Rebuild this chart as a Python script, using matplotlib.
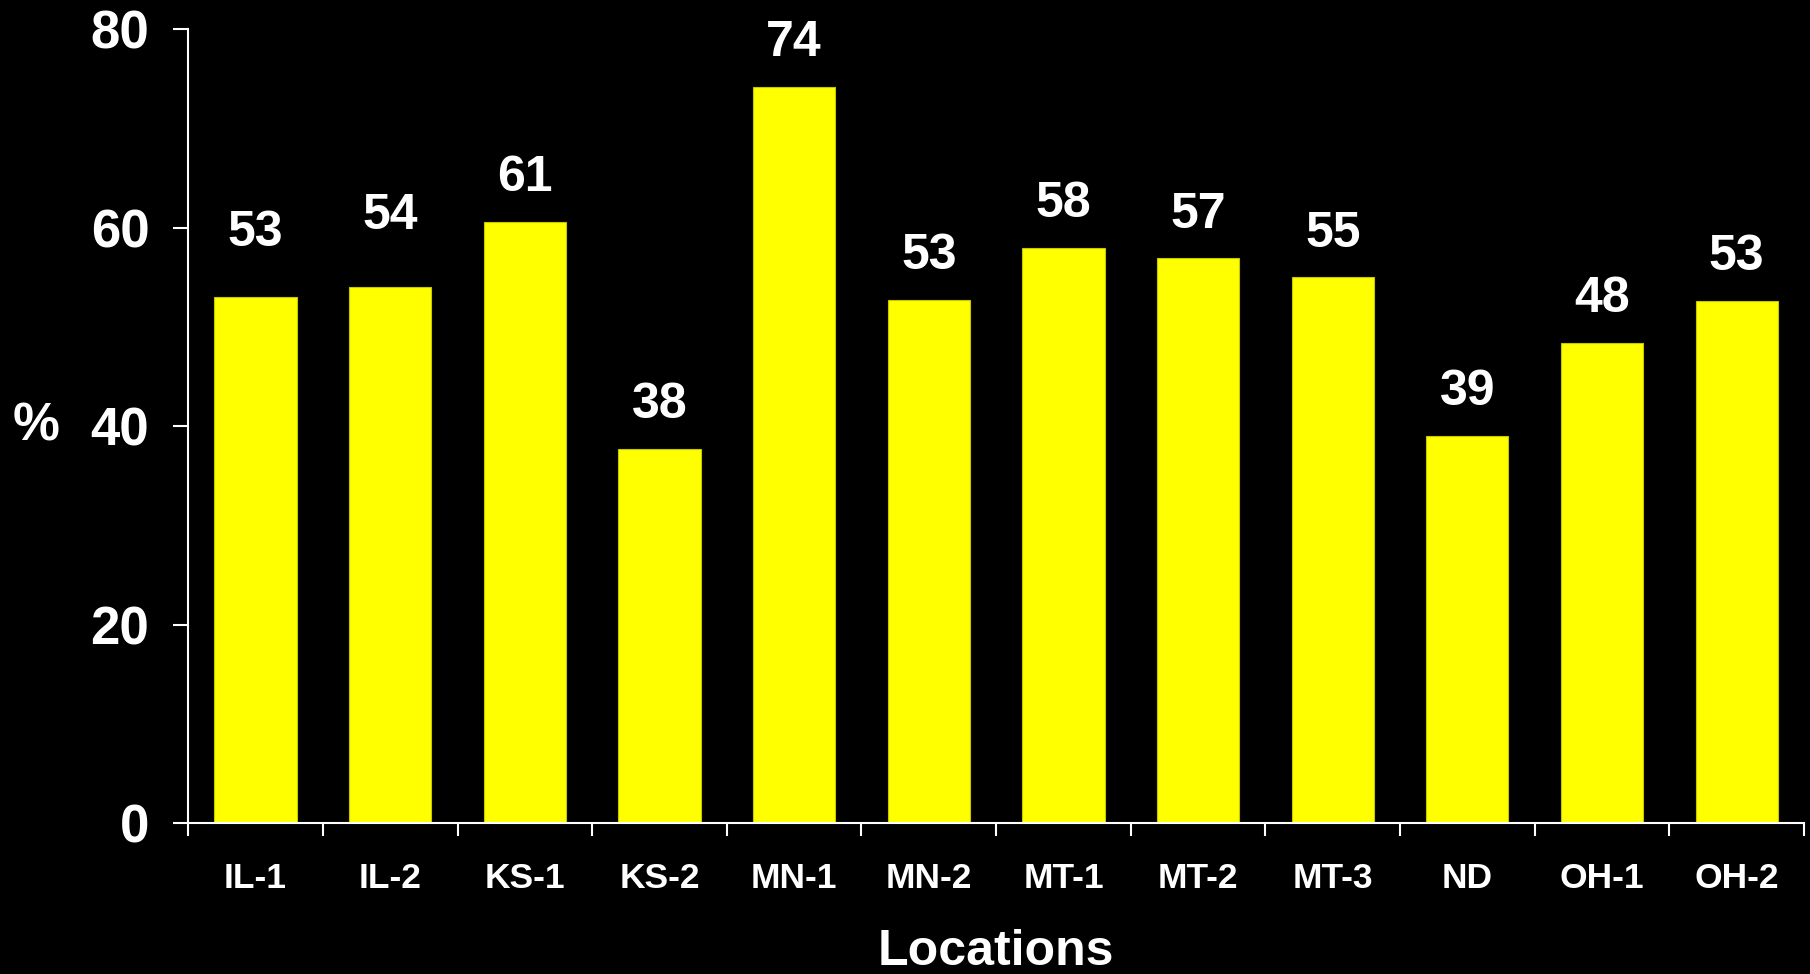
import matplotlib
matplotlib.use("Agg")

import matplotlib.pyplot as plt

plt.rcParams["font.family"] = ["Liberation Sans", "DejaVu Sans"]
plt.rcParams["font.weight"] = "bold"

locations = ["IL-1", "IL-2", "KS-1", "KS-2", "MN-1", "MN-2",
             "MT-1", "MT-2", "MT-3", "ND", "OH-1", "OH-2"]
percent = [53.0, 54.0, 60.6, 37.7, 74.2, 52.7,
           58.0, 56.9, 55.0, 39.0, 48.4, 52.6]

# extra lift (points) for a few value labels that sit higher above their bars
label_lift = [15, 20, 0, 0, 0, 0, 0, 0, 0, 0, 0, 0]

fig = plt.figure(figsize=(18.1, 9.74), dpi=100, facecolor="black")
ax = fig.add_axes([0.104, 0.155, 0.8927, 0.815], facecolor="black")

x = list(range(len(locations)))
bars = ax.bar(x, percent, width=0.61, color="#FFFF00",
              edgecolor="#c8c800", linewidth=0.8, zorder=2)

for xi, val, lift in zip(x, percent, label_lift):
    ax.annotate(f"{val:.0f}", xy=(xi, val), xytext=(0, 31.5 + lift),
                textcoords="offset points", ha="center", va="center",
                color="white", fontsize=36, fontweight="bold",
                annotation_clip=False)

ax.set_xlim(-0.5, len(locations) - 0.5)
ax.set_ylim(0, 80)
ax.set_yticks([0, 20, 40, 60, 80])

ax.set_xticks(x)
ax.set_xticklabels(locations)
ax.set_xticks([i - 0.5 for i in range(len(locations) + 1)], minor=True)

for side in ("top", "right"):
    ax.spines[side].set_visible(False)
for side in ("left", "bottom"):
    ax.spines[side].set_color("white")
    ax.spines[side].set_linewidth(1.5)

ax.tick_params(axis="y", colors="white", labelsize=38, length=11,
               width=1.5, pad=17)
ax.tick_params(axis="x", which="major", colors="white", labelsize=25.5,
               length=0, pad=28)
ax.tick_params(axis="x", which="minor", colors="white", length=9, width=1.5)

ax.set_ylabel("%", color="white", fontsize=38, fontweight="bold",
              rotation=0, va="center", labelpad=0)
ax.yaxis.set_label_coords(-0.094, 0.5)

ax.set_xlabel("Locations", color="white", fontsize=36, fontweight="bold")
ax.xaxis.set_label_coords(0.5, -0.134)

fig.savefig("out.png", dpi=100, facecolor="black")
plt.close(fig)
